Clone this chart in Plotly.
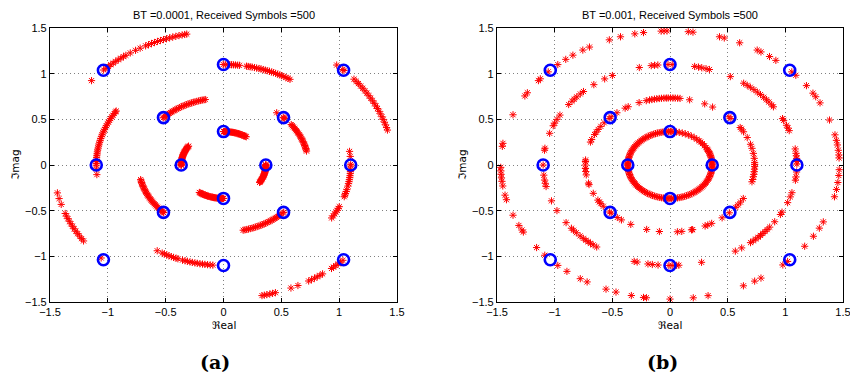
import numpy as np
import plotly.graph_objects as go

# ---------------- data ----------------
RING_RADII = [0.366, 0.734, 1.1, 1.468]
IDEAL_ANGLES = [[0, 90, 180, 270], [45, 135, 225, 315], [0, 90, 180, 270], [45, 135, 225, 315]]
TICKS = [-1.5, -1, -0.5, 0, 0.5, 1, 1.5]
TITLES = ["BT =0.0001, Received Symbols =500", "BT =0.001, Received Symbols =500"]
PANEL_LABELS = ["(a)", "(b)"]
X_LABEL = "\u211Ceal"
Y_LABEL = "\u2111mag"

# received-symbol phase angles (degrees) read per ring, panel (a)
A_RING1 = [90, 89.4, 88.7, 88, 87.1, 86.3, 85.2, 84.4, 83.1, 82.2, 81, 79.8, 78.7, 77.5, 76.6, 75.2, 74.1,
           72.8, 71.6, 70.3, 69.2, 68, 66.6, 65.4, 64.1, 62.8, 61.5, 60.2, 58.9, 57.5,
           0.6, 0, -0.8, -1.7, -2.9, -3.8, -5.1, -6.2, -7.4, -8.5, -9.8, -11, -12.1, -13.4, -14.6, -15.8,
           -17, -18.3, -19.5, -20.6, -21.9, -23.1, -24.4, -25.6, -26.8, -28.1, -29.4, -30.6, -31.4,
           235.2, 236.3, 237.5, 238.8, 240, 241.3, 242.6, 243.8, 245.1, 246.3, 247.6, 248.9, 250.1, 251.4,
           252.6, 253.9, 255.1, 256.4, 257.6, 258.9, 260.1, 261.4, 262.7, 263.9, 265.1, 266.3, 267.5, 268.6,
           269.5, 270.2,
           145.6, 146.8, 148, 149.3, 150.5, 151.8, 153, 154.3, 155.5, 156.8, 158, 159.3, 160.5, 161.8, 163,
           164.3, 165.6, 166.8, 168.1, 169.3, 170.6, 171.8, 173.1, 174.3, 175.6, 176.8, 178, 179.1, 180, 180.6]
A_RING2 = [51.2, 45.3, 44.6, 43.8, 37.1, 35.9, 34.6, 33.2, 32.1, 30.8, 29.5, 28.3, 27, 25.8, 24.5, 23.1,
           21.9, 20.6, 19.4, 18.1, 16.9, 15.6, 14.3, 13.1, 12,
           135.3, 134.5, 133.4, 132.2, 131, 129.7, 128.5, 127.2, 126, 124.7, 123.5, 122.2, 121, 119.6, 118.4,
           117.1, 115.9, 114.6, 113.3, 112.1, 110.8, 109.6, 108.3, 107, 105.8, 104.5, 103.3, 102.4,
           192.6, 193.8, 195.1, 196.3, 197.6, 198.8, 200.1, 201.3, 202.6, 203.9, 205.1, 206.4, 207.6, 208.9,
           210.2, 211.4, 212.7, 213.9, 215.2, 216.4, 217.7, 219, 220.2, 221.5, 222.7, 223.9, 224.8, 225.3,
           283.4, 284.6, 285.9, 287.1, 288.4, 289.7, 290.9, 292.2, 293.4, 294.7, 296, 297.2, 298.5, 299.7,
           301, 302.3, 303.5, 304.8, 306, 307.3, 308.5, 309.8, 311, 312, 314.6, 315.2]
A_RING3 = [90.1, 89.2, 88.1, 87.2, 86.4, 85.5, 84.6, 83.6, 82.8, 79.6, 78.8, 77.9, 77, 75.9, 74.9, 73.8,
           72.9, 71.8, 70.8, 69.9, 68.8, 67.8, 66.9, 65.8, 64.8, 63.7, 62.8, 61.7, 60.6, 59.5, 58.5,
           7.8, 4.9, 0.4, -0.6, -2.7, -3.8, -4.9, -6.1, -7.2, -8.4, -9.5, -10.7, -12.1, -14.2, -15.3, -16.5,
           -17.4, -18.4, -24.5, -25.6, -26.8, -27.9, -29.1, -30.4, -31.8,
           238.6, 241.2, 242.3, 243.5, 244.6, 245.8, 246.9, 248.1, 249, 251.2, 252.4, 253.5, 254.7, 255.8,
           257, 258.1, 259.3, 260.5, 261.6, 262.8, 264, 265.2,
           185.5, 182.3, 180.1, 179.1, 178, 176.9, 175.8, 174.7, 173.6, 172.5, 171.4, 170.3, 169.1, 168,
           166.9, 165.8, 164.7, 163.6, 162.5, 161.4, 160.3, 159.2, 158.1, 157, 155.9, 154.7, 153.6, 152.5,
           151.4, 150.3, 149.2, 148.1, 147.5]
A_RING4 = [141, 134.9, 133.9, 132.7, 131.6, 130.5, 129.4, 128.3, 127.2, 126.1, 125.1, 123.3, 121.2, 119.4,
           117.3, 116.2, 115.1, 114, 112.9, 111.8, 110.7, 109.6, 108.5, 107.4, 106.3, 105.2, 104.1, 103.2, 102.5,
           48.2, 45.4, 44.8, 39.8, 38.6, 37.4, 36.1, 34.9, 33.6, 32.4, 31.1, 29.9, 28.6, 27.4, 26.1, 24.9,
           23.6, 22.4, 21.1, 19.9, 18.6, 17.4, 16.2, 15.1,
           -45.3, -46.4, -47.5, -48.6, -49.6, -50.5, -54.3, -55.4, -56.5, -57.6, -58.8, -59.9, -64, -66.6,
           -72.2, -73.2, -74.2, -75.2, -76.1, -76.9,
           192, 194.5, 197.1, 201.2, 202.4, 203.6, 204.8, 206, 207.2, 208.4, 209.6, 210.8, 212, 213.3,
           214.5, 223.9]

# panel (b)
B_RING1 = [0, 1.4, 3.2, 5.1, 7.3, 9.4, 12.1, 14.2, 16.8, 19.1, 21.3, 23.9, 26.2, 28.4, 31.3, 35.2, 39.8,
           43.5, 46.1, 50.7, 55.2, 59.6, 64.3, 68.8, 73.1, 77.4, 81.2, 84.6, 87.5, 89.6, 91.8, 94.3, 96.9,
           99.6, 102.2, 104.8, 107.3, 110.1, 112.6, 115.2, 117.9, 120.4, 123.1, 125.7, 128.2, 130.9, 133.4,
           136.1, 138.8, 141.3, 143.9, 146.6, 149.2, 151.8, 154.3, 156.9, 159.4, 162.2, 164.8, 167.3, 169.9,
           172.4, 175.1, 177.6, 179.4, 181.2, 183.8, 186.3, 188.9, 191.5, 194.1, 196.6, 199.2, 201.8, 204.3,
           206.9, 209.5, 212.1, 214.6, 217.2, 219.8, 222.3, 224.9, 227.6, 230.1, 232.7, 235.2, 237.8, 240.4,
           243.1, 245.6, 248.2, 250.8, 253.3, 255.9, 258.6, 261.1, 263.7, 266.2, 268.4, 270.1, 272.3, 274.9,
           277.4, 280.1, 282.6, 285.3, 287.8, 290.4, 293.1, 295.6, 298.2, 300.9, 303.5, 306.1, 308.6, 311.3,
           313.9, 316.4, 319.1, 321.6, 324.3, 326.9, 329.4, 332.1, 334.6, 337.3, 339.8, 342.5, 345.1, 347.6,
           350.3, 352.8, 355.4, 357.9]
B_RING2 = [0.5, 2, 5.7, 10, 14.4, 18, 24.2, 29.7, 32.5, 34, 44, 46, 59.8, 65.8, 76.6, 83.2, 84.8, 86.5,
           88, 89.6, 91.2, 92.5, 94.1, 95.8, 97.3, 99, 100.6, 102.4, 104, 106.3, 111.4, 119.6, 122, 128.8,
           134, 136, 141, 144.8, 148, 150.5, 153, 157.7, 160, 175.7, 177, 180, 183, 185.6, 188.5, 195.7,
           197, 205, 211.6, 213.5, 215.2, 218, 224.5, 226, 231.5, 235, 242.4, 254, 262.8, 275, 278, 284.7,
           285.5, 294.5, 296.5, 299.5, 308, 314.5, 320.8, 323.5, 326.4, 330, 345.5, 347.5, 349.9, 352,
           354.3, 356.5, 358.6]
B_RING3 = [0.5, 2, 3.8, 5.2, 6.7, 9.2, 20, 21.6, 23.3, 26.4, 27.5, 35.4, 36.8, 38.8, 40.5, 42.4, 44.5,
           46.5, 48.6, 50.7, 52.5, 54.5, 61.6, 71.9, 73.5, 75.5, 77, 78.8, 89, 90.9, 95.5, 97, 98.5, 104,
           117, 121, 126.9, 133, 135, 137.3, 139, 140.6, 143, 150.2, 153, 155.4, 157, 161.6, 170.4, 171.5,
           180, 185.8, 188.6, 190.5, 192.4, 200.9, 207, 215, 219, 220.5, 222.4, 224.9, 226.9, 228.5, 229.8,
           231.2, 232.7, 234.7, 253.6, 255, 260, 262, 264.6, 269.5, 271, 273, 274, 284.4, 301, 304.4,
           309.4, 311, 312.5, 314, 315.5, 317, 318.5, 320, 321.8, 325.6, 330.5, 332, 338, 341.5, 344,
           351.3, 353.2, 356]
B_RING4 = [3, 4.3, 6.3, 8.6, 10.6, 13, 19.6, 27.6, 30.6, 32.4, 36.3, 42, 44, 51.3, 54, 57.5, 59, 65.7,
           71.3, 73, 82.2, 83.8, 91, 92, 93, 99, 102, 107, 111, 118.4, 121, 125, 128, 131.5, 136, 140,
           141, 147.4, 149, 158, 170.7, 172, 181, 182.5, 184, 185.5, 187, 189, 193, 195, 202, 206.8, 209,
           210, 218, 222.3, 228.5, 232.5, 238, 240.7, 247.8, 251.4, 256.8, 261, 262, 270, 277.9, 283,
           295.7, 300, 302.5, 311.8, 314, 322.7, 327.9, 331.9, 334.9, 346.3, 349.5, 352.5, 355.5, 358]

PANELS = [[A_RING1, A_RING2, A_RING3, A_RING4], [B_RING1, B_RING2, B_RING3, B_RING4]]

# ---------------- figure ----------------
X_DOMAINS = [[50 / 850, 397 / 850], [497 / 850, 843 / 850]]
Y_DOMAIN = [1 - 302 / 378, 1 - 28 / 378]

fig = go.Figure()

for k, rings in enumerate(PANELS):
    xa = "x" if k == 0 else "x2"
    ya = "y" if k == 0 else "y2"
    xs, ys = [], []
    for r, angs in zip(RING_RADII, rings):
        a = np.deg2rad(np.array(angs, dtype=float))
        xs.extend(r * np.cos(a))
        ys.extend(r * np.sin(a))
    fig.add_trace(go.Scatter(
        x=xs, y=ys, mode="markers", xaxis=xa, yaxis=ya, showlegend=False,
        marker=dict(symbol="asterisk-open", size=6, color="#ff0000",
                    line=dict(color="#ff0000", width=1.0))))
    ix, iy = [], []
    for r, angs in zip(RING_RADII, IDEAL_ANGLES):
        a = np.deg2rad(np.array(angs, dtype=float))
        ix.extend(r * np.cos(a))
        iy.extend(r * np.sin(a))
    fig.add_trace(go.Scatter(
        x=ix, y=iy, mode="markers", xaxis=xa, yaxis=ya, showlegend=False,
        marker=dict(symbol="circle-open", size=11, color="#0000ff",
                    line=dict(color="#0000ff", width=2.6))))

axis_common = dict(
    range=[-1.5, 1.5], tickvals=TICKS, ticks="inside", ticklen=4, tickcolor="black",
    showline=True, linecolor="black", linewidth=1.2, mirror="ticks", automargin=False,
    ticklabeloverflow="allow",
    showgrid=True, gridcolor="#808080", gridwidth=1, griddash="1px,3px",
    zeroline=False, tickfont=dict(family="Liberation Sans, Arial, sans-serif", size=11, color="black"),
)

fig.update_layout(
    template="none",
    width=850, height=378, margin=dict(l=0, r=0, t=0, b=0, autoexpand=False),
    paper_bgcolor="white", plot_bgcolor="white",
    xaxis=dict(domain=X_DOMAINS[0], anchor="y", **axis_common),
    yaxis=dict(domain=Y_DOMAIN, anchor="x", **axis_common),
    xaxis2=dict(domain=X_DOMAINS[1], anchor="y2", **axis_common),
    yaxis2=dict(domain=Y_DOMAIN, anchor="x2", **axis_common),
)

annotations = []
ylabel_x = [15 / 850, 462 / 850]
panel_label_x = [215 / 850, 662 / 850]
for k in range(2):
    cx = (X_DOMAINS[k][0] + X_DOMAINS[k][1]) / 2
    annotations.append(dict(text=TITLES[k], x=cx, y=1 - 15 / 378, xref="paper", yref="paper",
                            showarrow=False, xanchor="center", yanchor="middle",
                            font=dict(family="Liberation Sans, Arial, sans-serif", size=11, color="black")))
    annotations.append(dict(text=X_LABEL, x=cx, y=1 - 325 / 378, xref="paper", yref="paper",
                            showarrow=False, xanchor="center", yanchor="middle",
                            font=dict(family="DejaVu Sans, sans-serif", size=10.5, color="black")))
    annotations.append(dict(text=Y_LABEL, x=ylabel_x[k], y=1 - 165 / 378, xref="paper", yref="paper",
                            showarrow=False, xanchor="center", yanchor="middle", textangle=-90,
                            font=dict(family="DejaVu Sans, sans-serif", size=10.5, color="black")))
    annotations.append(dict(text="<b>" + PANEL_LABELS[k] + "</b>", x=panel_label_x[k], y=1 - 362 / 378,
                            xref="paper", yref="paper", showarrow=False, xanchor="center", yanchor="middle",
                            font=dict(family="DejaVu Serif, serif", size=19, color="black")))
fig.update_layout(annotations=annotations)

fig.write_html("out.html")
